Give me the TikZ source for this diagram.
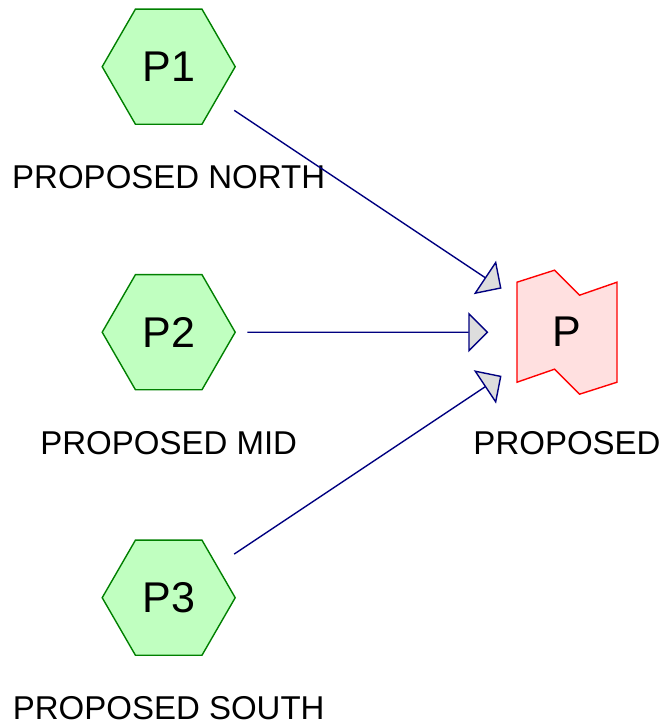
\documentclass[tikz,border=0pt]{standalone}
\usepackage{fontspec}
\setmainfont{Liberation Sans}
\usepackage{xcolor}
\usepackage{tikz}
\usetikzlibrary{positioning,arrows.meta,shapes.geometric,backgrounds}

\definecolor{hexfill}{RGB}{192,255,192}
\definecolor{hexline}{RGB}{0,128,0}
\definecolor{flagfill}{RGB}{255,224,224}
\definecolor{flagline}{RGB}{255,0,0}
\definecolor{linkline}{RGB}{0,0,128}
\definecolor{tipfill}{RGB}{221,221,221}

\begin{document}
\begin{tikzpicture}[x=1pt, y=-1pt, hex/.style={regular polygon, regular polygon sides=6, minimum size=133pt, inner sep=0pt, outer sep=0pt, draw=hexline, fill=hexfill, line width=1.4pt, font=\fontsize{43}{48}\selectfont}, lbl/.style={inner sep=0pt, outer sep=0pt, font=\fontsize{33}{40}\selectfont}, pnode/.style={minimum width=100pt, minimum height=124pt, inner sep=0pt, outer sep=0pt, font=\fontsize{43}{48}\selectfont}, flag/.style={draw=flagline, fill=flagfill, line width=1.4pt, line join=miter}, link/.style={draw=linkline, line width=1.4pt, shorten <=78.7pt, shorten >=78.7pt, -{Triangle[length=20pt, width=40pt, fill=tipfill]}}]
\useasboundingbox (0,0) rectangle (663,728);
\node[hex] (p1) at (168.7,66.7) {P1};
\node[hex, below=150.3pt of p1] (p2) {P2};
\node[hex, below=150.3pt of p2] (p3) {P3};
\node[lbl, below=41.2pt of p1] (l1) {PROPOSED NORTH};
\node[lbl, below=41.2pt of p2] (l2) {PROPOSED MID};
\node[lbl, below=41.2pt of p3] (l3) {PROPOSED SOUTH};
\node[pnode, right=281.8pt of p2] (p) {P};
\node[lbl, below=37.5pt of p.south] (l4) {PROPOSED};
\begin{scope}[on background layer]
\draw[flag] (p.center) ++(-50,-50) -- ++(37.5,-12) -- ++(25,25) -- ++(37.5,-13) -- ++(0,100) -- ++(-37.5,12) -- ++(-25,-25) -- ++(-37.5,13) -- cycle;
\end{scope}
\draw[link] (p1.center) -- (p.center);
\draw[link] (p2.center) -- (p.center);
\draw[link] (p3.center) -- (p.center);
\end{tikzpicture}
\end{document}
